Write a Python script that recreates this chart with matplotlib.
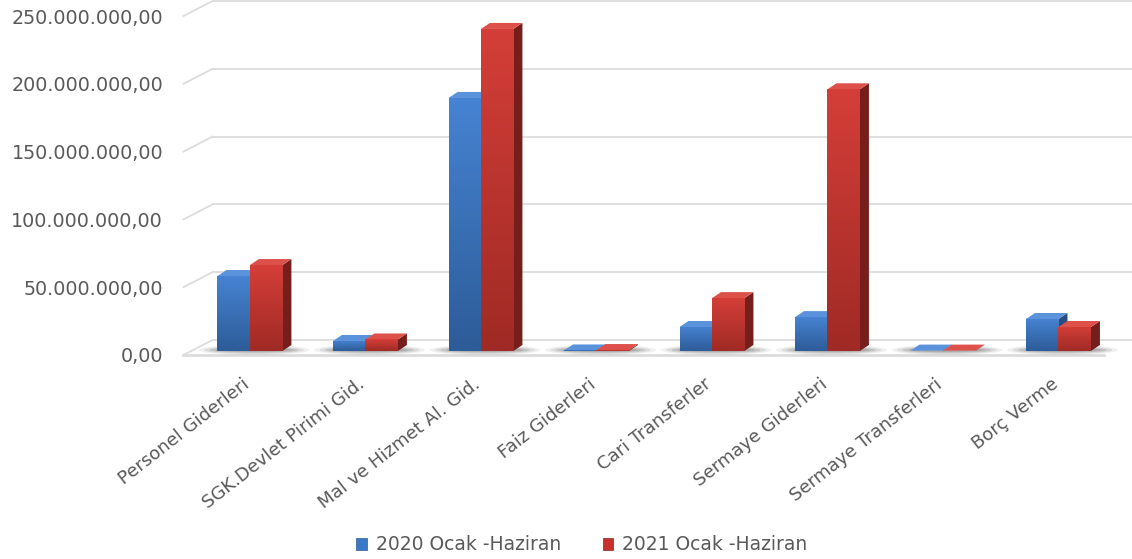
import numpy as np
import matplotlib.pyplot as plt
from matplotlib.patches import Polygon, Ellipse, Patch
from matplotlib.colors import LinearSegmentedColormap

categories = ['Personel Giderleri', 'SGK.Devlet Pirimi Gid.', 'Mal ve Hizmet Al. Gid.',
              'Faiz Giderleri', 'Cari Transferler', 'Sermaye Giderleri',
              'Sermaye Transferleri', 'Borç Verme']
values_2020 = [55.3e6, 7.4e6, 186.6e6, 0.4e6, 17.7e6, 25.0e6, 0.3e6, 23.6e6]
values_2021 = [63.4e6, 8.5e6, 237.5e6, 0.7e6, 39.0e6, 193.0e6, 0.3e6, 17.7e6]
series = ['2020 Ocak -Haziran', '2021 Ocak -Haziran']
yticks = [0, 50e6, 100e6, 150e6, 200e6, 250e6]
ytick_labels = ['0,00', '50.000.000,00', '100.000.000,00', '150.000.000,00',
                '200.000.000,00', '250.000.000,00']

W, H = 1132, 559
fig = plt.figure(figsize=(W / 100, H / 100), dpi=100)
ax = fig.add_axes([190 / W, (H - 351) / H, 920 / W, 339 / H])
xl, xr = -0.519, 7.446
ax.set_xlim(xl, xr)
ax.set_ylim(0, 250e6)
ax.axis('off')

def px(dx, dy):
    # pixel offset -> data offset
    inv = ax.transData.inverted()
    a = inv.transform((0, 0))
    b = inv.transform((dx, dy))
    return b[0] - a[0], b[1] - a[1]

grid_c = '#DCDCDC'
text_c = '#595959'
fdx, fdy = px(-6.5, -4)    # front edge of floor
bdx, bdy = px(22.5, 11)    # back wall
sdx, sdy = px(9, 6)        # bar depth

# back wall gridlines + left wall diagonals
for v in yticks:
    ax.plot([xl + bdx, xr + bdx], [v + bdy, v + bdy], color=grid_c, lw=1.3,
            clip_on=False, zorder=1)
    ax.plot([xl + fdx, xl + bdx], [v + fdy, v + bdy], color=grid_c, lw=1.3,
            clip_on=False, zorder=1)
# floor front edge
ax.plot([xl + fdx, xr + fdx], [fdy, fdy], color=grid_c, lw=2.0, clip_on=False, zorder=1)

# y tick labels
lx, ly = px(-27, -4)
for v, lab in zip(yticks, ytick_labels):
    ax.text(xl + lx, v + ly, lab, ha='right', va='center_baseline', fontsize=13.8,
            color=text_c, family='DejaVu Sans')

w = 0.281
styles = [
    dict(top='#4683D2', bot='#2D5C98', side='#294D80', lid='#5A93DC'),
    dict(top='#D43E38', bot='#A02A25', side='#761E1B', lid='#DE514A'),
]

# shadows on the floor
for i in range(len(categories)):
    for k, a in enumerate([0.10, 0.16, 0.22, 0.26]):
        sw = 2 * w + px(46 - 11 * k, 0)[0]
        sh = px(0, 10 - 2 * k)[1]
        ax.add_patch(Ellipse((i + px(4, 0)[0], px(0, 1)[1]), sw, sh,
                             color='#6F6F6F', alpha=a, lw=0, zorder=2, clip_on=False))

z = 3
for i in range(len(categories)):
    for s, vals in enumerate([values_2020, values_2021]):
        st = styles[s]
        x0 = i - w + s * w
        x1 = x0 + w
        h = vals[i]
        # right side face
        ax.add_patch(Polygon([(x1, 0), (x1 + sdx, sdy), (x1 + sdx, h + sdy), (x1, h)],
                             closed=True, fc=st['side'], ec='none', zorder=z))
        # top face
        ax.add_patch(Polygon([(x0, h), (x1, h), (x1 + sdx, h + sdy), (x0 + sdx, h + sdy)],
                             closed=True, fc=st['lid'], ec='none', zorder=z))
        # front face with gradient
        bar = ax.bar(x0, h, width=w, align='edge', color=st['top'], lw=0, zorder=z + 0.5)[0]
        cmap = LinearSegmentedColormap.from_list('g', [st['bot'], st['top']])
        grad = np.linspace(0, 1, 64).reshape(-1, 1)
        im = ax.imshow(grad, extent=(x0, x1, 0, h), origin='lower', cmap=cmap,
                       aspect='auto', zorder=z + 0.6)
        im.set_clip_path(bar)
        z += 1

ax.set_xlim(xl, xr)
ax.set_ylim(0, 250e6)

# category labels
cx, cy = px(-8, -24)
for i, lab in enumerate(categories):
    ax.text(i + cx, cy, lab, rotation=38, rotation_mode='anchor', ha='right', va='top',
            fontsize=13, color=text_c, family='DejaVu Sans')

handles = [Patch(facecolor='#3B78C6', edgecolor='#2D5C98', lw=0.5),
           Patch(facecolor='#C9302C', edgecolor='#8A2320', lw=0.5)]
fig.legend(handles, series, loc='center', bbox_to_anchor=(582 / W, 1 - 545 / H),
           ncol=2, frameon=False, labelcolor=text_c,
           handlelength=0.55, handleheight=0.55, handletextpad=0.5, columnspacing=2.2,
           prop={'family': 'DejaVu Sans', 'size': 13.5})

fig.savefig('out.png', dpi=100)
